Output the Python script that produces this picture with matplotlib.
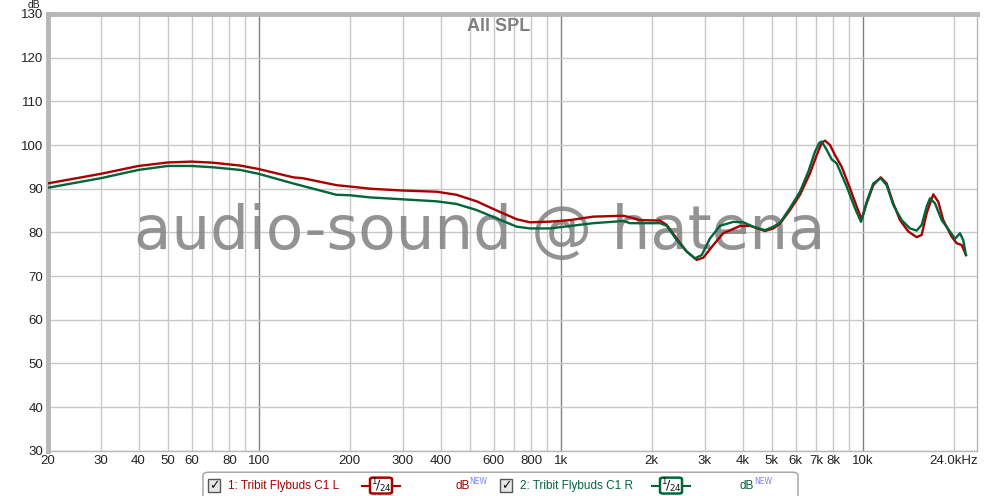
import numpy as np
import matplotlib.pyplot as plt
from matplotlib.patches import FancyBboxPatch, Rectangle
from matplotlib.ticker import FixedLocator, NullLocator

# channel L (red)
freq_l = [20, 30, 40, 50, 60, 70.6, 86.7, 100, 130, 140, 181, 200, 234, 294,
          389, 452, 527, 614, 715, 791, 921, 1073, 1282, 1612, 1696, 1830,
          2132, 2244, 2422, 2614, 2821, 2967, 3201, 3454, 3924, 4236, 4748,
          5058, 5324, 5746, 6200, 6691, 7044, 7317, 7505, 7794, 8096, 8522,
          9077, 9553, 9924, 10309, 10842, 11472, 12008, 12627, 13290, 14158,
          15092, 15679, 16290, 17130, 17794, 18487, 19712, 20478, 21270,
          21980]
spl_l = [91.2, 93.4, 95.2, 96.0, 96.2, 95.95, 95.3, 94.5, 92.6, 92.4, 90.8,
         90.5, 90.0, 89.6, 89.3, 88.6, 87.1, 85.0, 83.0, 82.3, 82.45, 82.8,
         83.6, 83.8, 83.45, 82.8, 82.7, 81.7, 78.6, 75.6, 73.7, 74.2, 77.1,
         79.8, 81.45, 81.5, 80.3, 80.9, 82.0, 85.1, 88.6, 93.5, 97.7, 100.5,
         101.0, 100.0, 97.7, 95.0, 90.1, 85.9, 83.0, 86.65, 90.8, 92.6, 91.2,
         86.65, 82.8, 80.2, 78.9, 79.4, 84.4, 88.7, 87.0, 82.8, 79.0, 77.5,
         77.1, 74.8]

# channel R (green)
freq_r = [20, 30, 40, 50, 60, 70.6, 86.7, 100, 130, 181, 200, 234, 294, 389,
          452, 527, 614, 715, 791, 921, 1073, 1282, 1612, 1696, 1830, 2132,
          2244, 2422, 2614, 2784, 2931, 3122, 3369, 3728, 4024, 4343, 4748,
          5058, 5324, 5746, 6200, 6606, 6954, 7185, 7317, 7600, 7896, 8201,
          8851, 9430, 9872, 10309, 10842, 11472, 12008, 12627, 13463, 14342,
          15092, 15679, 16290, 16710, 17352, 18263, 19459, 20212, 21000,
          21530, 21980]
spl_r = [90.2, 92.4, 94.3, 95.2, 95.2, 94.9, 94.3, 93.4, 91.2, 88.6, 88.5,
         88.0, 87.6, 87.1, 86.5, 85.1, 83.2, 81.3, 80.9, 80.9, 81.45, 82.1,
         82.6, 82.1, 82.1, 82.1, 81.5, 78.25, 75.6, 74.05, 74.8, 78.6, 81.5,
         82.4, 82.3, 81.3, 80.5, 81.3, 82.2, 85.6, 89.3, 93.9, 98.5, 100.5,
         100.8, 98.9, 96.7, 95.8, 90.5, 85.5, 82.4, 87.0, 91.2, 92.4, 90.8,
         86.3, 82.8, 80.9, 80.4, 81.7, 85.9, 87.8, 86.65, 82.8, 80.2, 78.5,
         79.8, 78.2, 74.8]

xticks = [20, 30, 40, 50, 60, 80, 100, 200, 300, 400, 600, 800, 1000, 2000,
          3000, 4000, 5000, 6000, 7000, 8000, 10000, 24000]
xlabels = ['20', '30', '40', '50', '60', '80', '100', '200', '300', '400',
           '600', '800', '1k', '2k', '3k', '4k', '5k', '6k', '7k', '8k',
           '10k', '24.0kHz']
yticks = list(range(30, 131, 10))

red = '#a80000'
green = '#00663a'
narrow = ['Liberation Sans Narrow', 'Liberation Sans']

fig = plt.figure(figsize=(10, 4.96), dpi=100)
ax = fig.add_axes([0.0476, 0.0913, 0.9299, 0.8805])
ax.set_xscale('log')
ax.set_xlim(20, 24000)
ax.set_ylim(30, 130)

# grid: every integer multiple on the log axis, darker at decades
minor = [m * d for d in (10, 100, 1000, 10000) for m in range(2, 10)
         if 20 <= m * d <= 24000]
for f in minor:
    ax.axvline(f, color='#c8c8c8', lw=1, zorder=0)
for f in (100, 1000, 10000):
    ax.axvline(f, color='#808080', lw=1, zorder=0)
for y in yticks:
    ax.axhline(y, color='#c8c8c8', lw=1, zorder=0)

ax.text(0.465, 0.5, 'audio-sound @ hatena', transform=ax.transAxes,
        fontsize=44, color='#808080', alpha=0.85, ha='center', va='center',
        zorder=1)
ax.text(0.4854, 0.99, 'All SPL', transform=ax.transAxes, fontsize=13,
        fontweight='bold', color='#808080', ha='center', va='top', zorder=1,
        family='Liberation Sans')

ax.plot(freq_l, spl_l, color=red, lw=1.7, zorder=3, solid_joinstyle='round')
ax.plot(freq_r, spl_r, color=green, lw=1.7, zorder=4, solid_joinstyle='round')

ax.xaxis.set_major_locator(FixedLocator(xticks))
ax.xaxis.set_minor_locator(NullLocator())
ax.set_xticks(xticks)
ax.set_xticklabels(xlabels, family=narrow)
ax.set_yticks(yticks)
ax.set_yticklabels([str(y) for y in yticks], family=narrow)
ax.tick_params(axis='both', length=0, labelsize=9.5, colors='#222222', pad=3)
ax.get_xticklabels()[-1].set_horizontalalignment('right')

for s in ax.spines.values():
    s.set_color('#b8b8b8')
    s.set_linewidth(1)
ax.spines['left'].set_linewidth(3.5)
ax.spines['top'].set_linewidth(3.5)

fig.text(0.034, 1.0, 'dB', fontsize=7.5, color='#222222', ha='center',
         va='top', family=narrow)

# legend strip at the bottom
box = FancyBboxPatch((0.203, -0.02), 0.595, 0.068, transform=fig.transFigure,
                     boxstyle='round,pad=0,rounding_size=0.006',
                     fc='white', ec='#a0a0a0', lw=1)
fig.patches.append(box)

legend_items = [
    ('1: Tribit Flybuds C1 L', red, 0.208, 0.228, 0.362, 0.455),
    ('2: Tribit Flybuds C1 R', green, 0.500, 0.520, 0.652, 0.740),
]
for label, col, cbx, tx, icx, dbx in legend_items:
    cb = Rectangle((cbx, 0.008), 0.012, 0.026, transform=fig.transFigure,
                   fc='#e8e8e8', ec='#555555', lw=1)
    fig.patches.append(cb)
    fig.text(cbx + 0.006, 0.021, '\u2713', fontsize=9, color='#111111',
             ha='center', va='center', fontweight='bold')
    fig.text(tx, 0.021, label, fontsize=8.5, color=col, ha='left',
             va='center', family=narrow)
    fig.lines.append(plt.Line2D([icx, icx + 0.038], [0.021, 0.021],
                                transform=fig.transFigure, color=col, lw=1.5,
                                zorder=2))
    ic = FancyBboxPatch((icx + 0.008, 0.005), 0.022, 0.032,
                        transform=fig.transFigure,
                        boxstyle='round,pad=0,rounding_size=0.003',
                        fc='white', ec=col, lw=1.8, zorder=3)
    fig.patches.append(ic)
    fig.text(icx + 0.019, 0.020, r'$^{1}\!/_{24}$', fontsize=9,
             color='#111111', ha='center', va='center', zorder=4)
    fig.text(dbx, 0.021, 'dB', fontsize=8.5, color=col, ha='left',
             va='center', family=narrow)
    fig.text(dbx + 0.0145, 0.030, 'NEW', fontsize=5.5, color='#8080ff',
             ha='left', va='center')

fig.savefig('out.png', dpi=100, facecolor='white')
